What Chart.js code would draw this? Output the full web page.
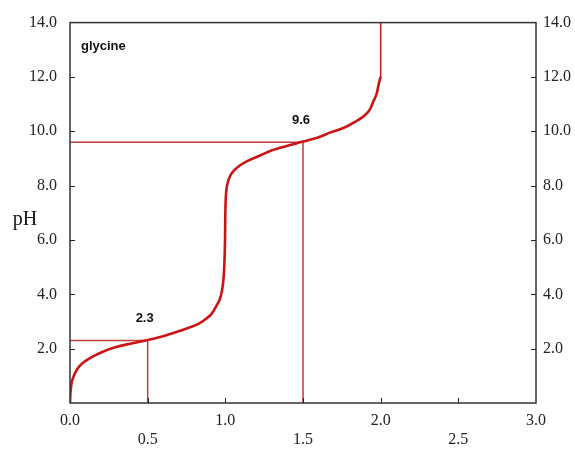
<!DOCTYPE html>
<html>
<head>
<meta charset="utf-8">
<script src="https://cdn.jsdelivr.net/npm/chart.js@4/dist/chart.umd.min.js"></script>
<style>
  html, body { margin: 0; padding: 0; background: #fff; }
  #wrap { width: 575px; height: 450px; }
</style>
</head>
<body>
<div id="wrap"><canvas id="c" width="575" height="450"></canvas></div>
<script>
// ---- data ----
const equivalents = [0, 0.002, 0.006, 0.012, 0.025, 0.04, 0.06, 0.1, 0.14, 0.2, 0.29, 0.4, 0.5, 0.6, 0.68, 0.76, 0.83, 0.88, 0.91, 0.945, 0.966, 0.983, 0.993, 0.998, 1.0, 1.002, 1.006, 1.015, 1.03, 1.05, 1.095, 1.14, 1.22, 1.3, 1.4, 1.5, 1.6, 1.674, 1.76, 1.846, 1.9, 1.93, 1.953, 1.975, 1.99, 2.0];
const pHValues    = [0, 0.3, 0.55, 0.78, 1.0, 1.18, 1.35, 1.55, 1.69, 1.86, 2.05, 2.2, 2.32, 2.46, 2.6, 2.76, 2.92, 3.12, 3.27, 3.6, 3.85, 4.3, 5.0, 6.0, 7.0, 7.45, 7.8, 8.1, 8.35, 8.52, 8.75, 8.9, 9.1, 9.3, 9.47, 9.62, 9.78, 9.95, 10.12, 10.38, 10.6, 10.8, 11.1, 11.4, 11.8, 12.0];
const endEquivalents = [2.0, 2.0];
const endPH = [12.0, 14.0];
const pKa1 = 2.3, pKa1Eq = 0.5;
const pKa2 = 9.6, pKa2Eq = 1.5;
const xTicks = [0.0, 0.5, 1.0, 1.5, 2.0, 2.5, 3.0];
const yTicks = [0, 2, 4, 6, 8, 10, 12, 14];
const compound = 'glycine';
const yTitle = 'pH';

const curve = equivalents.map((x, i) => ({ x: x, y: pHValues[i] }));
const curveEnd = endEquivalents.map((x, i) => ({ x: x, y: endPH[i] }));
const guide1 = [{ x: 0, y: pKa1 }, { x: pKa1Eq, y: pKa1 }, { x: pKa1Eq, y: 0 }];
const guide2 = [{ x: 0, y: pKa2 }, { x: pKa2Eq, y: pKa2 }, { x: pKa2Eq, y: 0 }];

const SERIF = "'Liberation Serif', 'Times New Roman', serif";
const SANS = "'Liberation Sans', Arial, sans-serif";

const decor = {
  id: 'decor',
  afterDraw(chart) {
    const ctx = chart.ctx;
    const a = chart.chartArea;
    const xs = chart.scales.x, yl = chart.scales.y;
    ctx.save();
    // border
    ctx.strokeStyle = '#333';
    ctx.lineWidth = 1.5;
    ctx.strokeRect(a.left, a.top, a.right - a.left, a.bottom - a.top);
    // inward tick marks
    ctx.lineWidth = 1;
    ctx.strokeStyle = '#222';
    ctx.beginPath();
    xTicks.forEach(v => {
      if (v === 0 || v === 3) return;
      const px = Math.round(xs.getPixelForValue(v)) + 0.5;
      ctx.moveTo(px, a.bottom); ctx.lineTo(px, a.bottom - 5);
    });
    yTicks.forEach(v => {
      if (v === 0 || v === 14) return;
      const py = Math.round(yl.getPixelForValue(v)) + 0.5;
      ctx.moveTo(a.left, py); ctx.lineTo(a.left + 5, py);
      ctx.moveTo(a.right, py); ctx.lineTo(a.right - 5, py);
    });
    ctx.stroke();
    // annotations
    ctx.fillStyle = '#111';
    ctx.font = "bold 13px " + SANS;
    ctx.textAlign = 'left';
    ctx.textBaseline = 'middle';
    ctx.fillText(compound, a.left + 11, a.top + 24);
    ctx.textAlign = 'center';
    ctx.fillText(pKa1.toFixed(1), xs.getPixelForValue(pKa1Eq) - 3, yl.getPixelForValue(pKa1) - 22);
    ctx.fillText(pKa2.toFixed(1), xs.getPixelForValue(pKa2Eq) - 2, yl.getPixelForValue(pKa2) - 22);
    // axis title (horizontal)
    ctx.font = "20px " + SERIF;
    ctx.textAlign = 'center';
    ctx.fillText(yTitle, 25, (a.top + a.bottom) / 2 + 7);
    ctx.restore();
  }
};

new Chart(document.getElementById('c'), {
  type: 'line',
  data: {
    datasets: [
      { data: guide1, borderColor: '#c23a3a', borderWidth: 1.5, pointRadius: 0, tension: 0, order: 2 },
      { data: guide2, borderColor: '#c23a3a', borderWidth: 1.5, pointRadius: 0, tension: 0, order: 2 },
      { data: curve, borderColor: '#cc1414', borderWidth: 2.6, pointRadius: 0, cubicInterpolationMode: 'monotone', order: 1 },
      { data: curveEnd, borderColor: '#cc1414', borderWidth: 1.5, pointRadius: 0, tension: 0, order: 1 }
    ]
  },
  options: {
    responsive: false,
    animation: false,
    layout: { padding: { left: 0, right: 0, top: 19, bottom: 0 } },
    plugins: { legend: { display: false }, tooltip: { enabled: false } },
    scales: {
      x: {
        type: 'linear', min: 0, max: 3,
        afterBuildTicks: s => { s.ticks = xTicks.map(v => ({ value: v })); },
        afterFit: s => { s.height = 47; },
        grid: { display: false, drawTicks: false },
        border: { display: false },
        ticks: {
          padding: 9,
          color: '#222',
          font: { family: SERIF, size: 16, lineHeight: 1.15 },
          maxRotation: 0, autoSkip: false,
          callback: v => {
            const t = Number(v).toFixed(1);
            return (Math.round(v * 2) % 2 === 1) ? ['', t] : t;
          }
        }
      },
      y: {
        type: 'linear', position: 'left', min: 0, max: 14,
        afterBuildTicks: s => { s.ticks = yTicks.map(v => ({ value: v })); },
        afterFit: s => { s.width = 70; },
        grid: { display: false, drawTicks: false },
        border: { display: false },
        ticks: {
          padding: 13, color: '#222',
          font: { family: SERIF, size: 16 },
          callback: v => v === 0 ? '' : Number(v).toFixed(1)
        }
      },
      y2: {
        type: 'linear', position: 'right', min: 0, max: 14,
        afterBuildTicks: s => { s.ticks = yTicks.map(v => ({ value: v })); },
        afterFit: s => { s.width = 39; },
        grid: { display: false, drawTicks: false },
        border: { display: false },
        ticks: {
          padding: 7, color: '#222',
          font: { family: SERIF, size: 16 },
          callback: v => v === 0 ? '' : Number(v).toFixed(1)
        }
      }
    }
  },
  plugins: [decor]
});
</script>
</body>
</html>
